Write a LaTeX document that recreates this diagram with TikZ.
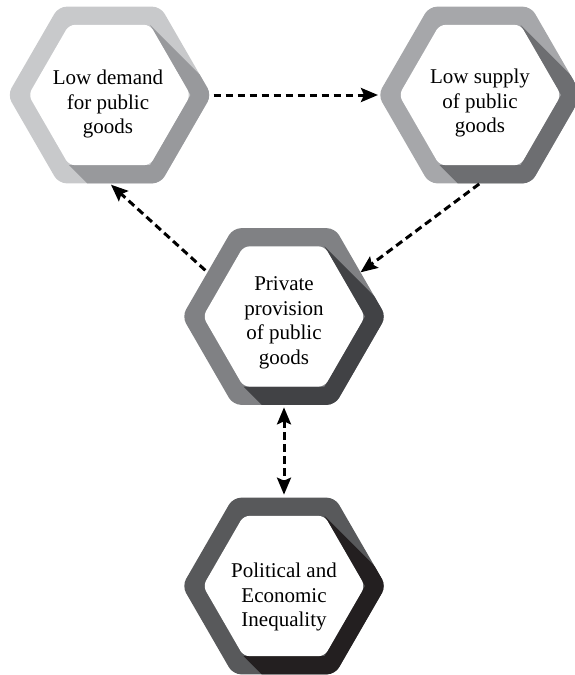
\documentclass[tikz,border=0pt]{standalone}
\usepackage{fontspec}
\setmainfont{Liberation Serif}
\newfontfamily\hexfont{Liberation Serif}
\usetikzlibrary{arrows.meta,shapes.geometric}
\definecolor{lA}{RGB}{200,201,203}
\definecolor{dA}{RGB}{152,153,156}
\definecolor{lB}{RGB}{166,167,170}
\definecolor{dB}{RGB}{109,110,113}
\definecolor{lC}{RGB}{128,129,132}
\definecolor{dC}{RGB}{65,66,69}
\definecolor{lD}{RGB}{88,89,91}
\definecolor{dD}{RGB}{35,31,32}
\newcommand\hexring[4]{%
 \begin{scope}[shift={(#1,#2)}]
  \fill[#3, rounded corners=8pt] (102,0) -- (51,88.33) -- (-51,88.33) -- (-102,0) -- (-51,-88.33) -- (51,-88.33) -- cycle;
  \begin{scope}
   \clip[rounded corners=8pt] (102,0) -- (51,88.33) -- (-51,88.33) -- (-102,0) -- (-51,-88.33) -- (51,-88.33) -- cycle;
   \fill[#4] (40.5,-70.15) -- (81,0) -- (40.5,70.15) -- (-40.5,70.15) -- (159.5,270.15) -- (240.5,129.85) -- cycle;
  \end{scope}
  \fill[white, rounded corners=6pt] (81,0) -- (40.5,70.15) -- (-40.5,70.15) -- (-81,0) -- (-40.5,-70.15) -- (40.5,-70.15) -- cycle;
 \end{scope}}
\tikzset{
 hexnode/.style={regular polygon, regular polygon sides=6, minimum size=204pt, inner sep=0pt, outer sep=0pt},
 label/.style={align=center, font=\hexfont\fontsize{21}{24.5}\selectfont, inner sep=0pt},
 arr/.style={dash pattern=on 7.5pt off 4.5pt, line width=3pt, -{Stealth[length=17pt,width=14pt,inset=3pt]}},
 darr/.style={arr, {Stealth[length=17pt,width=14pt,inset=3pt]}-{Stealth[length=17pt,width=14pt,inset=3pt]}}
}
\begin{document}
\begin{tikzpicture}[x=1pt,y=-1pt]
\useasboundingbox (0,0) rectangle (574,675);
\hexring{109.5}{95}{lA}{dA}
\hexring{480}{95}{lB}{dB}
\hexring{284}{316.5}{lC}{dC}
\hexring{284}{586}{lD}{dD}
\node[hexnode] (h1) at (109.5,95) {};
\node[hexnode] (h2) at (480,95) {};
\node[hexnode] (h3) at (284,316.5) {};
\node[hexnode] (h4) at (284,586) {};
\node[label] (t1) at (108,104) {Low demand\\for public\\goods};
\node[label] (t2) at (480,103) {Low supply\\of public\\goods};
\node[label] (t3) at (284,323) {Private\\provision\\of public\\goods};
\node[label] (t4) at (284,597) {Political and\\Economic\\Inequality};
\draw[arr, shorten <=2pt] (h1.east) -- (h2.west);
\draw[arr, shorten <=1pt] (h2.south) -- (h3.30);
\draw[arr, shorten <=3pt, shorten >=2pt] (h3.150) -- (h1.south);
\draw[darr, shorten <=2.5pt, shorten >=3pt] (h3.south) -- (h4.north);
\end{tikzpicture}
\end{document}
